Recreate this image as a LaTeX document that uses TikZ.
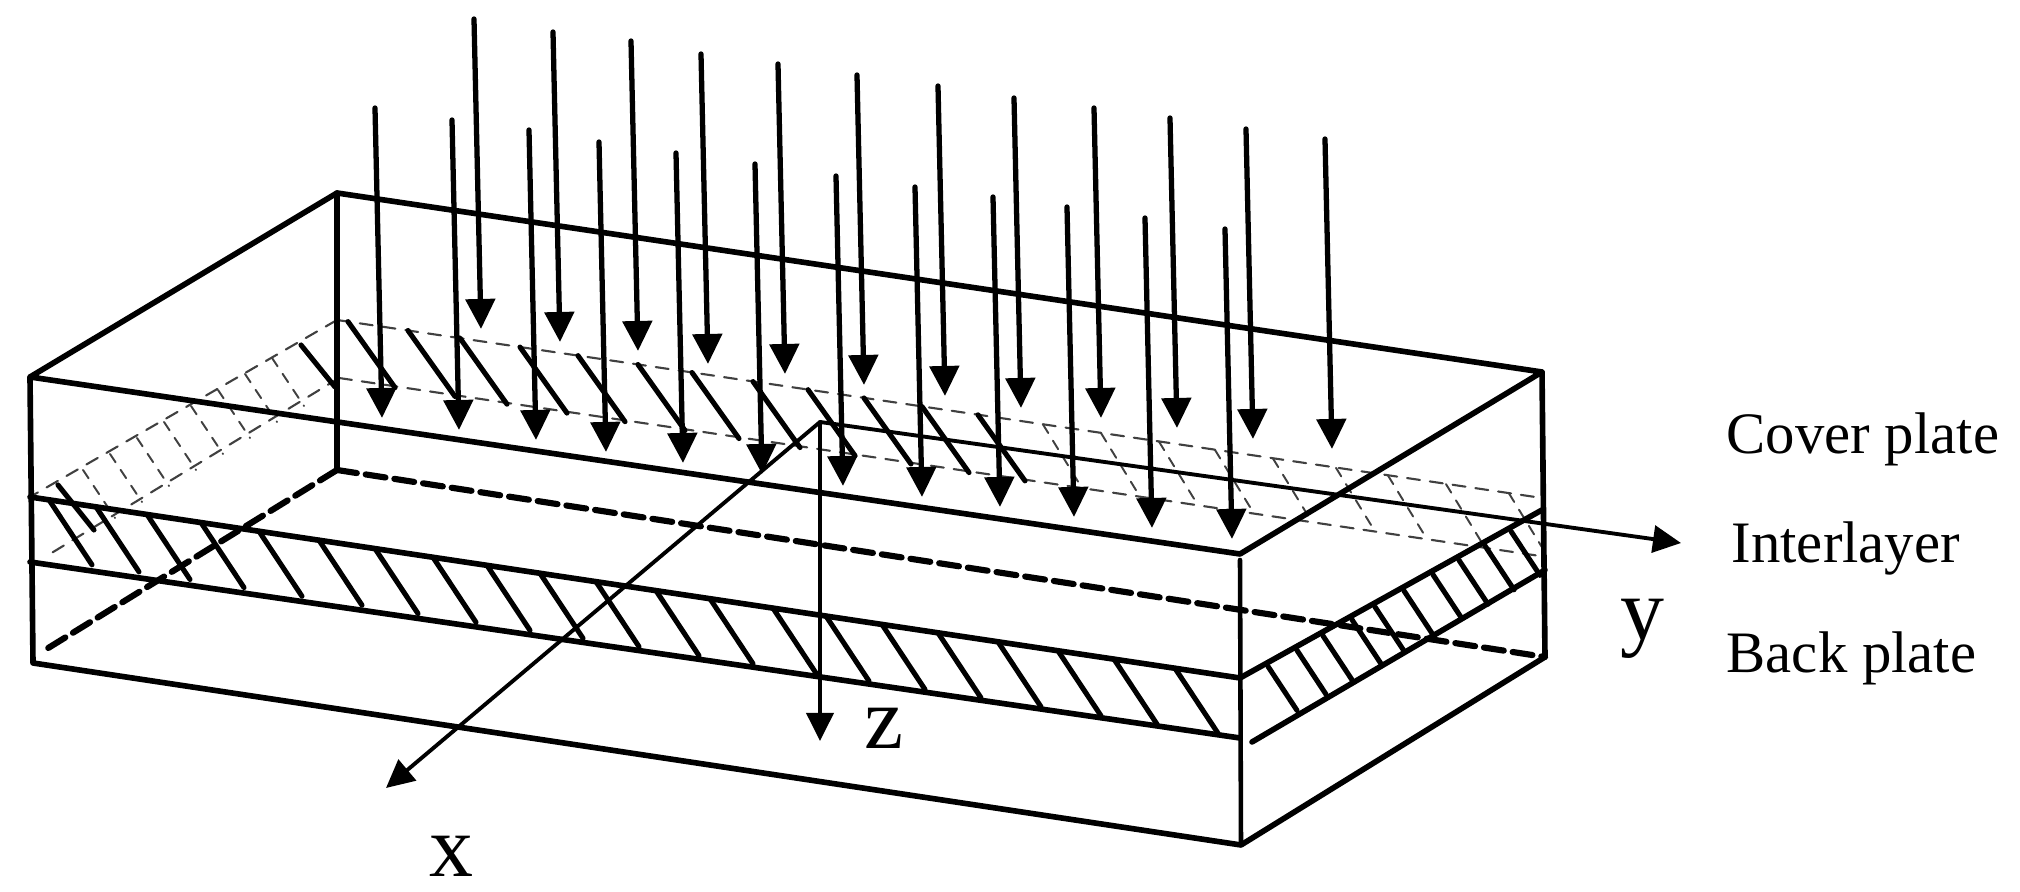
\documentclass[tikz,border=0pt]{standalone}
\usepackage{fontspec}
\setmainfont{Liberation Serif}
\usetikzlibrary{arrows.meta}
\tikzset{
	edge/.style={line width=1.6pt},
	hatch/.style={line width=1.45pt},
	thickdash/.style={line width=1.75pt,dash pattern=on .2cm off .09cm},
	thindash/.style={line width=.6pt,black!75,dash pattern=on .13cm off .1cm},
	hatchdash/.style={line width=.55pt,black!75,dash pattern=on .1cm off .09cm},
	beam/.style={line width=1.5pt,-{Stealth[length=.3cm,width=.29cm,inset=0pt]}},
	axis/.style={line width=1.1pt,-{Stealth[length=.28cm,width=.27cm,inset=0pt]}},
	platelabel/.style={anchor=base west,font=\fontsize{16.7}{20}\selectfont,inner sep=0pt},
	axislabel/.style={anchor=base,font=\fontsize{25}{30}\selectfont,inner sep=0pt}
}
\begin{document}
\begin{tikzpicture}[x=.01cm,y=-.01cm,line join=round,line cap=round]
	\useasboundingbox (0,0) rectangle (2020,892);
	\path
	(30,377) coordinate (A)
	(337,193) coordinate (B)
	(1542,372) coordinate (C)
	(1240,554) coordinate (D)
	(33,663) coordinate (E)
	(337,470) coordinate (F)
	(1545,657) coordinate (G)
	(1241,845) coordinate (H)
	(820,422) coordinate (O)
	(1681,543) coordinate (Y)
	(386,788) coordinate (X)
	(820,741) coordinate (Z);
	% thin dashed plane of the top face
	\draw[thindash] (337,320)--(1542,498) (339,378)--(1540,556);
	\draw[thindash] (337,320)--(30,497) (339,378)--(45,557);
	\foreach \i in {0,...,7}
		\draw[hatchdash] ({272-27*\i},{358+16*\i})--++(32,48);
	\foreach \x in {1043,1101,1159,1215,1273,1336,1388,1446,1509}
		\draw[hatchdash] (\x,{320+.148*(\x-337)})--++(38,62);
	% hidden edges
	\draw[thickdash] (F)--(G) (F)--(45,650);
	% box
	\draw[edge] (A)--(B)--(C)--(D)--cycle;
	\draw[edge] (A)--(E)--(H)--(G)--(C);
	\draw[edge] (B)--(F);
	\draw[line width=1.3pt] (1240,560)--(H);
	% interlayer
	\draw[edge] (30,497)--(1240,678)--(1542,510);
	\draw[edge] (30,562)--(1240,738) (1252,742)--(1545,570);
	\foreach \x in {49,96,147,201,259,319,375,433,487,540,596,656,710,773,826,882,938,998,1058,1114,1175}
		\draw[hatch] (\x,{497+.1496*(\x-30)})--++(43,65);
	\foreach \x in {1268,1297,1323,1352,1375,1404,1433,1459,1485,1511}
		\draw[hatch] (\x,{682-.556*(\x-1240)})--++(29,44);
	% solid hatch on the dashed plane
	\foreach \x in {348,408,460,520,578,638,692,753,808,864,922,978}
		\draw[hatch] (\x,{320+.148*(\x-337)})--++(47,66);
	\draw[hatch] (301,345)--(335,387);
	\draw[hatch] (58,485)--(94,530);
	% incident arrows
	\foreach \x/\y in {474/19,553/32,631/41,701/54,778/64,857/75,938/86,1014/98,1094/108,1170/118,1246/129,1325/139}
		\draw[beam] (\x,\y)--++(7,310);
	\foreach \x/\y in {375/108,452/120,529/130,599/142,676/153,755/164,836/176,915/187,993/197,1067/207,1145/218,1225/229}
		\draw[beam] (\x,\y)--++(7,310);
	% axes
	\draw[axis] (O)--(Y);
	\draw[axis] (O)--(X);
	\draw[axis] (O)--(Z);
	\node[axislabel] (xlabel) at (451,877) {x};
	\node[axislabel] (ylabel) at (1642,640) {y};
	\node[axislabel] (zlabel) at (884,749) {z};
	\node[platelabel] (cover) at (1726,454) {Cover plate};
	\node[platelabel] (inter) at (1731,563) {Interlayer};
	\node[platelabel] (back) at (1726,673) {Back plate};
\end{tikzpicture}
\end{document}
